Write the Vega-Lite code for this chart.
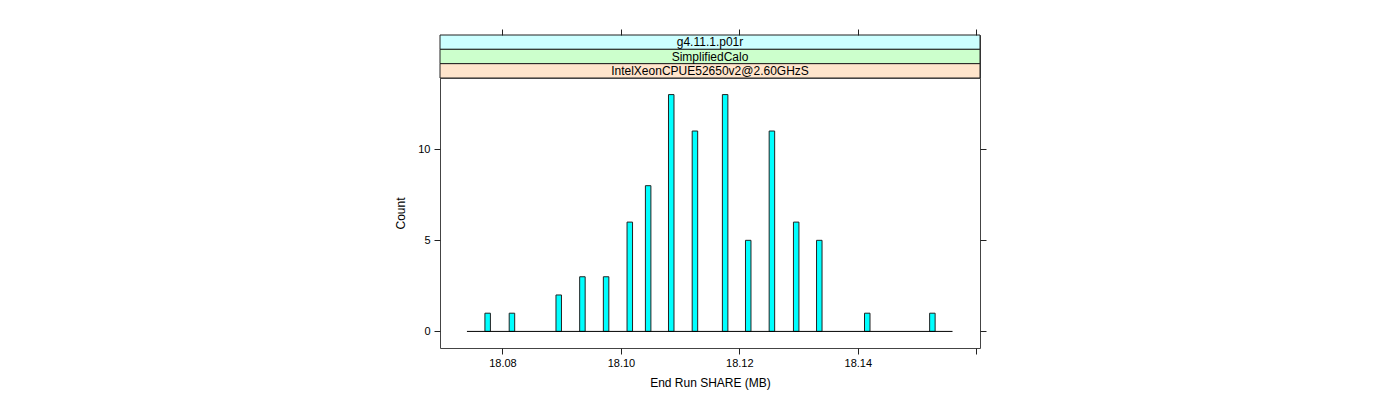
{
  "$schema": "https://vega.github.io/schema/vega-lite/v6.json",
  "padding": {"left": 394, "top": 28, "right": 5, "bottom": 5},
  "background": "white",
  "config": {
    "font": "Liberation Sans",
    "view": {"stroke": "#444", "strokeWidth": 1},
    "axis": {
      "domain": false,
      "grid": false,
      "tickColor": "#222",
      "tickSize": 6,
      "labelColor": "#000",
      "labelFont": "Liberation Sans",
      "labelFontSize": 11,
      "titleFont": "Liberation Sans",
      "titleFontSize": 12,
      "titleFontWeight": "normal",
      "titleColor": "#000"
    }
  },
  "datasets": {
    "hist": [
      {"share": 18.0775, "count": 1},
      {"share": 18.0816, "count": 1},
      {"share": 18.0895, "count": 2},
      {"share": 18.0935, "count": 3},
      {"share": 18.0975, "count": 3},
      {"share": 18.1015, "count": 6},
      {"share": 18.1046, "count": 8},
      {"share": 18.1085, "count": 13},
      {"share": 18.1125, "count": 11},
      {"share": 18.1176, "count": 13},
      {"share": 18.1215, "count": 5},
      {"share": 18.1255, "count": 11},
      {"share": 18.1296, "count": 6},
      {"share": 18.1335, "count": 5},
      {"share": 18.1416, "count": 1},
      {"share": 18.1526, "count": 1}
    ],
    "range": [{"from": 18.0740, "to": 18.1560, "zero": 0}],
    "strips": [
      {"level": "g4.11.1.p01r", "order": 1},
      {"level": "SimplifiedCalo", "order": 2},
      {"level": "IntelXeonCPUE52650v2@2.60GHzS", "order": 3}
    ]
  },
  "vconcat": [
    {
      "width": 540,
      "height": 43,
      "data": {"name": "strips"},
      "encoding": {
        "y": {
          "field": "level",
          "type": "nominal",
          "sort": ["g4.11.1.p01r", "SimplifiedCalo", "IntelXeonCPUE52650v2@2.60GHzS"],
          "scale": {"paddingInner": 0, "paddingOuter": 0},
          "axis": null
        }
      },
      "layer": [
        {
          "mark": {"type": "rect", "stroke": "#222", "strokeWidth": 1},
          "encoding": {
            "fill": {
              "field": "level",
              "type": "nominal",
              "scale": {
                "domain": ["g4.11.1.p01r", "SimplifiedCalo", "IntelXeonCPUE52650v2@2.60GHzS"],
                "range": ["#CCFFFF", "#CCFFCC", "#FFE5CC"]
              },
              "legend": null
            }
          }
        },
        {
          "mark": {"type": "text", "fontSize": 12, "font": "Liberation Sans", "color": "#000", "baseline": "middle", "align": "center"},
          "encoding": {"text": {"field": "level"}}
        }
      ]
    },
    {
      "width": 540,
      "height": 270,
      "layer": [
        {
          "data": {"name": "hist"},
          "mark": {"type": "bar", "size": 5.5, "fill": "#00FFFF", "stroke": "#222", "strokeWidth": 1},
          "encoding": {
            "x": {
              "field": "share",
              "type": "quantitative",
              "scale": {"domain": [18.06945, 18.16064], "nice": false, "zero": false, "padding": 0},
              "axis": {
                "orient": "bottom",
                "values": [18.08, 18.10, 18.12, 18.14, 18.16],
                "format": ".2f",
                "labelExpr": "datum.value > 18.155 ? '' : datum.label",
                "labelPadding": 3,
                "title": "End Run SHARE (MB)",
                "titlePadding": 9
              }
            },
            "y": {
              "field": "count",
              "type": "quantitative",
              "scale": {"domain": [-0.91, 13.91], "nice": false, "zero": false, "padding": 0},
              "axis": {
                "orient": "left",
                "values": [0, 5, 10],
                "labelPadding": 4,
                "title": "Count",
                "titlePadding": 10
              }
            }
          }
        },
        {
          "data": {"name": "range"},
          "mark": {"type": "rule", "color": "#000", "strokeWidth": 1},
          "encoding": {
            "x": {
              "field": "from",
              "type": "quantitative",
              "scale": {"domain": [18.06945, 18.16064], "nice": false, "zero": false, "padding": 0},
              "axis": {
                "orient": "top",
                "offset": 43,
                "values": [18.08, 18.10, 18.12, 18.14, 18.16],
                "labels": false,
                "title": null
              }
            },
            "x2": {"field": "to"},
            "y": {
              "field": "zero",
              "type": "quantitative",
              "scale": {"domain": [-0.91, 13.91], "nice": false, "zero": false, "padding": 0},
              "axis": {
                "orient": "right",
                "values": [0, 5, 10],
                "labels": false,
                "title": null
              }
            }
          }
        }
      ],
      "resolve": {"axis": {"x": "independent", "y": "independent"}}
    }
  ],
  "spacing": 0,
  "bounds": "flush"
}
